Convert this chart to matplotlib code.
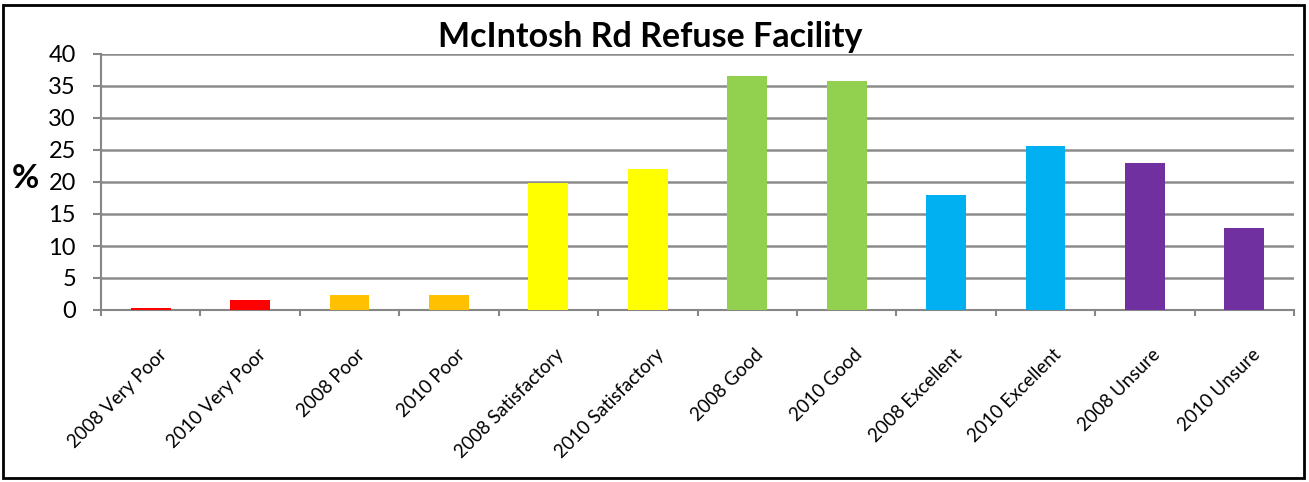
import numpy as np
import matplotlib
matplotlib.use("Agg")
from matplotlib import pyplot as plt
from matplotlib.patches import Rectangle
from matplotlib.transforms import ScaledTranslation

categories = ["2008 Very Poor", "2010 Very Poor", "2008 Poor", "2010 Poor",
              "2008 Satisfactory", "2010 Satisfactory", "2008 Good", "2010 Good",
              "2008 Excellent", "2010 Excellent", "2008 Unsure", "2010 Unsure"]
values = [0.3, 1.6, 2.3, 2.3, 19.8, 22.0, 36.6, 35.8, 18.0, 25.6, 23.0, 12.8]
colors = ["#ff0000", "#ff0000", "#ffc000", "#ffc000", "#ffff00", "#ffff00",
          "#92d050", "#92d050", "#00b0f0", "#00b0f0", "#7030a0", "#7030a0"]
yticks = [0, 5, 10, 15, 20, 25, 30, 35, 40]

plt.rcParams["font.family"] = ["Lato", "DejaVu Sans"]

fig = plt.figure(figsize=(13.09, 4.82), dpi=100)
ax = fig.add_axes([101 / 1309, 1 - 310 / 482, (1294 - 101) / 1309, (310 - 54) / 482])

x = np.arange(len(categories))
ax.bar(x, values, width=0.4, color=colors, zorder=3)

ax.set_xlim(-0.5, len(categories) - 0.5)
ax.set_ylim(0, 40)
ax.set_yticks(yticks)
ax.tick_params(axis="y", labelsize=17, length=6, color="#868686", width=1.5, pad=12)
ax.yaxis.grid(True, color="#8c8c8c", linewidth=1.8, zorder=0)

ax.set_xticks(x)
ax.set_xticklabels(categories, rotation=45, ha="right", rotation_mode="anchor", fontsize=13.5)
ax.tick_params(axis="x", which="major", length=0, pad=26)
shift = ScaledTranslation(0.07, 0, fig.dpi_scale_trans)
for lbl in ax.get_xticklabels():
    lbl.set_transform(lbl.get_transform() + shift)
ax.set_xticks(np.arange(-0.5, len(categories)), minor=True)
ax.tick_params(axis="x", which="minor", length=4.5, color="#868686", width=1.5)

for side in ["top", "right"]:
    ax.spines[side].set_visible(False)
for side in ["left", "bottom"]:
    ax.spines[side].set_color("#868686")
    ax.spines[side].set_linewidth(1.5)

fig.text(25 / 1309, 1 - 178 / 482, "%", ha="center", va="center",
         fontsize=24, fontweight="bold")
fig.text(650 / 1309, 1 - 37 / 482, "McIntosh Rd Refuse Facility", ha="center", va="center",
         fontsize=24.5, fontweight="bold")

# outer frame
fig.patches.append(Rectangle((3 / 1309, 4 / 482), 1301 / 1309, 473 / 482,
                             transform=fig.transFigure, fill=False, edgecolor="black",
                             linewidth=2))

fig.savefig("out.png", dpi=100)
